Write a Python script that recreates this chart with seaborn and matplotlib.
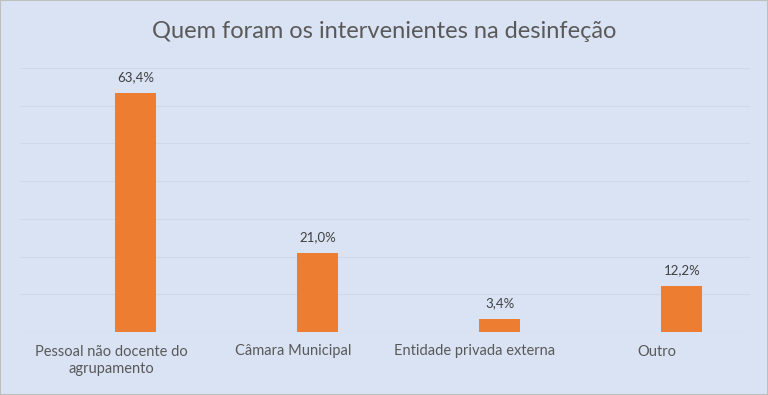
import matplotlib
matplotlib.use("Agg")
import matplotlib.pyplot as plt
import seaborn as sns
import pandas as pd

categories = ["Pessoal não docente do\nagrupamento", "Câmara Municipal",
              "Entidade privada externa", "Outro"]
values = [63.4, 21.0, 3.4, 12.2]
value_labels = ["63,4%", "21,0%", "3,4%", "12,2%"]
y_ticks = [0, 10, 20, 30, 40, 50, 60, 70]

sns.set_theme(style="white")
plt.rcParams['font.family'] = ['Lato', 'DejaVu Sans']

bg = "#DAE3F3"
fig = plt.figure(figsize=(7.68, 3.95), dpi=100, facecolor=bg)
ax = fig.add_axes([20/768, 63/395, 730/768, (332-68)/395])
ax.set_facecolor(bg)

df = pd.DataFrame({"cat": list(range(len(categories))), "val": values})
sns.barplot(data=df, x="cat", y="val", color="#ED7D31", saturation=1,
            width=0.225, native_scale=True, ax=ax, zorder=3, linewidth=0)

ax.set_ylim(0, 70)
ax.set_xlim(-0.637, 3.374)
ax.set_yticks(y_ticks)
ax.yaxis.grid(True, color="#D0D8E6", linewidth=0.8, zorder=0)
ax.set_yticklabels([])
ax.tick_params(axis="y", length=0)
ax.set_xticks([i - 0.137 for i in range(len(categories))])
ax.set_xticklabels(categories, fontsize=10.5, color="#595959", linespacing=1.3)
ax.tick_params(axis="x", length=0, pad=9)
ax.set_xlabel("")
ax.set_ylabel("")
for s in ax.spines.values():
    s.set_visible(False)
ax.axhline(0, color="#D0D8E6", linewidth=0.8, zorder=1)

for p, lab in zip(ax.patches, value_labels):
    ax.annotate(lab, (p.get_x() + p.get_width()/2, p.get_height()),
                xytext=(0, 7), textcoords="offset points", ha="center", va="bottom",
                fontsize=9.5, color="#404040")

fig.text(0.5, 1 - 32/395, "Quem foram os intervenientes na desinfeção", ha="center",
         va="center", fontsize=17, color="#595959")

fig.patches.append(plt.Rectangle((0, 0), 1, 1, transform=fig.transFigure, fill=False,
                                 edgecolor="#BFBFBF", linewidth=1.5))
fig.savefig("out.png", dpi=100, facecolor=bg)
